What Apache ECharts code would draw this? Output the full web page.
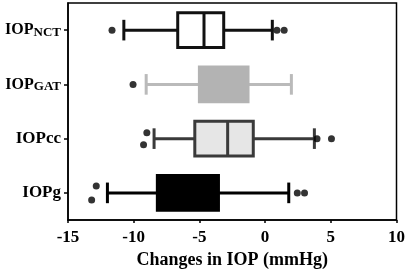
<!DOCTYPE html>
<html>
<head>
<meta charset="utf-8">
<script src="https://cdn.jsdelivr.net/npm/echarts@6/dist/echarts.min.js"></script>
<style>
	html, body { margin: 0; padding: 0; background: #fff; }
	#chart { width: 408px; height: 274px; }
</style>
</head>
<body>
<div id="chart"></div>
<script>
// groups, bottom to top
var groups = ['IOPg', 'IOPcc', 'IOPGAT', 'IOPNCT'];
var tickLabels = ['{m|IOPg}', '{m|IOPcc}', '{n|IOP}{s|GAT}', '{n|IOP}{s|NCT}'];

// [whisker low, Q1, median, Q3, whisker high]
var statsG = [-12.0, -8.2, -6.2, -3.55, 1.8];
var statsCC = [-8.45, -5.35, -2.85, -0.9, 3.75];
var statsGAT = [-9.05, -5.0, -3.2, -1.3, 2.0];
var statsNCT = [-10.75, -6.65, -4.65, -3.15, 0.55];

// outliers: [value, group index]
var outliers = [
	[-12.85, 0], [-13.2, 0], [2.45, 0], [3.0, 0],
	[-9.0, 1], [-9.25, 1], [3.95, 1], [5.05, 1],
	[-10.05, 2],
	[-11.65, 3], [0.9, 3], [1.45, 3]
];
var outlierShift = [-7, 7, 0, 0, -6, 6, 0, 0, 0, 0, 0, 0];

var xTicks = { min: -15, max: 10, interval: 5 };

var boxStyles = [
	{ fill: '#000000', stroke: '#000000', whisker: '#000000' },
	{ fill: '#e6e6e6', stroke: '#3a3a3a', whisker: '#3a3a3a' },
	{ fill: '#b3b3b3', stroke: '#b3b3b3', whisker: '#bababa' },
	{ fill: '#ffffff', stroke: '#111111', whisker: '#111111' }
];

var allStats = [statsG, statsCC, statsGAT, statsNCT];
var boxData = allStats.map(function(s, i) {
	return [i].concat(s);
});

var myChart = echarts.init(document.getElementById('chart'));
var serif = '"Liberation Serif", "Times New Roman", serif';

function renderBox(params, api) {
	var c = api.value(0);
	var y = api.coord([0, c])[1];
	var xs = [];
	for (var i = 1; i <= 5; i++) {
		xs.push(api.coord([api.value(i), c])[0]);
	}
	var band = api.size([0, 1])[1];
	var bh = band * 0.32;
	var ch = band * 0.19;
	var st = boxStyles[params.dataIndex];
	var lw = 3;
	return {
		type: 'group',
		children: [
			{ type: 'line', shape: { x1: xs[0], y1: y, x2: xs[1], y2: y }, style: { stroke: st.whisker, lineWidth: lw } },
			{ type: 'line', shape: { x1: xs[3], y1: y, x2: xs[4], y2: y }, style: { stroke: st.whisker, lineWidth: lw } },
			{ type: 'line', shape: { x1: xs[0], y1: y - ch, x2: xs[0], y2: y + ch }, style: { stroke: st.whisker, lineWidth: lw } },
			{ type: 'line', shape: { x1: xs[4], y1: y - ch, x2: xs[4], y2: y + ch }, style: { stroke: st.whisker, lineWidth: lw } },
			{ type: 'rect', shape: { x: xs[1], y: y - bh, width: xs[3] - xs[1], height: bh * 2 }, style: { fill: st.fill, stroke: st.stroke, lineWidth: lw } },
			{ type: 'line', shape: { x1: xs[2], y1: y - bh, x2: xs[2], y2: y + bh }, style: { stroke: st.stroke, lineWidth: lw } }
		]
	};
}

var option = {
	animation: false,
	backgroundColor: '#fff',
	grid: {
		left: 68,
		right: 10.5,
		top: 3,
		bottom: 51,
		show: true,
		borderColor: '#000',
		borderWidth: 1.5
	},
	xAxis: {
		type: 'value',
		min: xTicks.min,
		max: xTicks.max,
		interval: xTicks.interval,
		splitLine: { show: false },
		axisLine: { show: true, lineStyle: { color: '#000', width: 1.5 } },
		axisTick: { show: true, inside: false, length: 3, lineStyle: { color: '#000', width: 1.5 } },
		axisLabel: { color: '#000', fontFamily: serif, fontWeight: 'bold', fontSize: 17, margin: 9 },
		name: 'Changes in IOP (mmHg)',
		nameLocation: 'middle',
		nameGap: 31,
		nameTextStyle: { color: '#000', fontFamily: serif, fontWeight: 'bold', fontSize: 18 }
	},
	yAxis: {
		type: 'category',
		data: groups,
		boundaryGap: true,
		axisLine: { show: true, onZero: false, lineStyle: { color: '#000', width: 1.5 } },
		axisTick: { show: true, alignWithLabel: true, length: 4, lineStyle: { color: '#000', width: 1.5 } },
		axisLabel: {
			margin: 7,
			formatter: function(v, i) {
				return tickLabels[i];
			},
			rich: {
				m: { color: '#000', fontFamily: serif, fontWeight: 'bold', fontSize: 17, lineHeight: 18 },
				n: { color: '#000', fontFamily: serif, fontWeight: 'bold', fontSize: 16, lineHeight: 18 },
				s: { color: '#000', fontFamily: serif, fontWeight: 'bold', fontSize: 13, lineHeight: 13, verticalAlign: 'bottom' }
			}
		}
	},
	series: [{
		type: 'custom',
		renderItem: renderBox,
		encode: { x: [1, 2, 3, 4, 5], y: 0 },
		data: boxData,
		z: 2
	}, {
		type: 'scatter',
		symbol: 'circle',
		symbolSize: 7,
		itemStyle: { color: '#000' },
		data: outliers.map(function(p, i) {
			return { value: p, symbolOffset: [0, outlierShift[i]] };
		}),
		z: 3
	}]
};

myChart.setOption(option);
</script>
</body>
</html>
